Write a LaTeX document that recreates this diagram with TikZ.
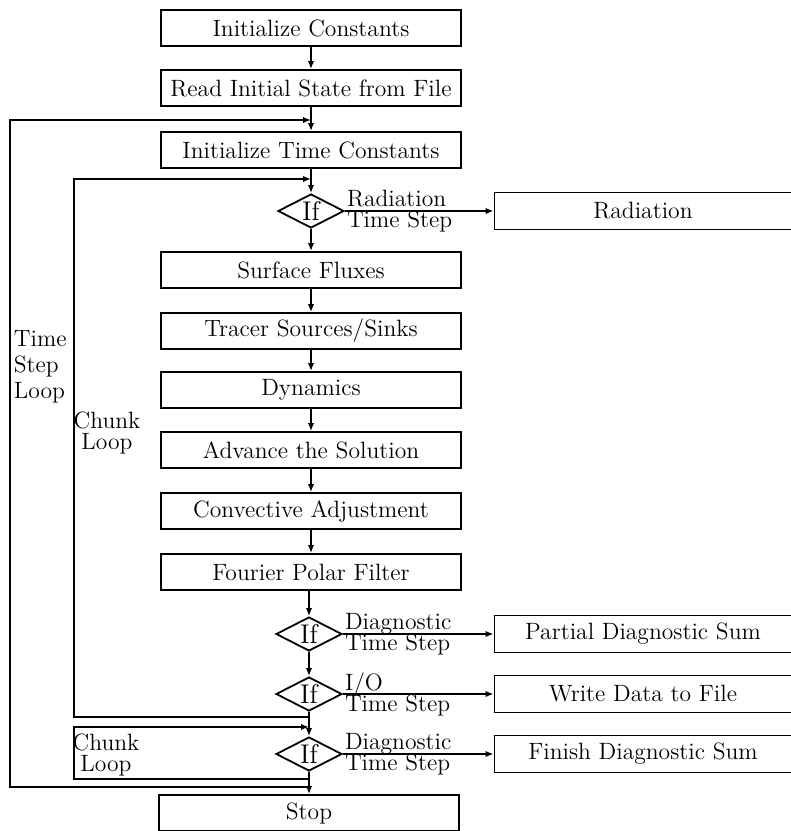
\documentclass[tikz,border=0pt]{standalone}
\usetikzlibrary{shapes.geometric,arrows.meta}
\begin{document}
\begin{tikzpicture}[x=0.5pt,y=-0.5pt,line width=0.9pt,
        >={Latex[length=4pt,width=3.2pt]},
        font=\fontsize{11.8}{13.5}\selectfont,
        stepbox/.style={draw,minimum width=150pt,minimum height=18pt,inner sep=0pt},
        sidebox/.style={draw,minimum width=148.5pt,minimum height=18.5pt,inner sep=0pt},
        test/.style={draw,diamond,aspect=2,inner sep=0pt,minimum width=33pt,minimum height=17pt,
            font=\fontsize{13.5}{15}\selectfont},
        cond/.style={anchor=west,align=left,inner sep=0.6pt},
        looplab/.style={align=center,inner sep=0pt}]
        \useasboundingbox (0,0) rectangle (791,831);

        % main column
        \node[stepbox] (init) at (311,28) {Initialize Constants};
        \node[stepbox] (read) at (311,88) {Read Initial State from File};
        \node[stepbox] (timec) at (311,150) {Initialize Time Constants};
        \node[test] (ifrad) at (311,211) {If};
        \node[stepbox] (surf) at (311,270) {Surface Fluxes};
        \node[stepbox] (tracer) at (311,331) {Tracer Sources/Sinks};
        \node[stepbox] (dyn) at (311,390) {Dynamics};
        \node[stepbox] (adv) at (311,450) {Advance the Solution};
        \node[stepbox] (conv) at (311,511) {Convective Adjustment};
        \node[stepbox] (four) at (311,572) {Fourier Polar Filter};
        \node[test] (ifdiag) at (309,634) {If};
        \node[test] (ifio) at (309,694) {If};
        \node[test] (iffin) at (309,754) {If};
        \node[stepbox] (stop) at (309,813) {Stop};

        % side branches
        \node[sidebox] (rad) at (643,211) {Radiation};
        \node[sidebox] (psum) at (643,634) {Partial Diagnostic Sum};
        \node[sidebox] (wdata) at (643,694) {Write Data to File};
        \node[sidebox] (fsum) at (643,754) {Finish Diagnostic Sum};

        \node[cond] (radlab) at (ifrad.east) {Radiation\\[-3pt]Time Step};
        \node[cond] (diaglab) at (ifdiag.east) {Diagnostic\\[-3pt]Time Step};
        \node[cond] (iolab) at (ifio.east) {I/O\\[-3pt]Time Step};
        \node[cond] (finlab) at (iffin.east) {Diagnostic\\[-3pt]Time Step};

        \draw[->] (init) -- (read);
        \draw[->] (read) -- (timec);
        \draw[->] (timec) -- (ifrad);
        \draw[->] (ifrad) -- (surf);
        \draw[->] (surf) -- (tracer);
        \draw[->] (tracer) -- (dyn);
        \draw[->] (dyn) -- (adv);
        \draw[->] (adv) -- (conv);
        \draw[->] (conv) -- (four);
        \draw[->] (four.south -| ifdiag) -- (ifdiag);
        \draw[->] (ifdiag) -- (ifio);
        \draw[->] (ifio) -- (iffin);
        \draw[->] (iffin) -- (stop);

        \draw[->] (ifrad) -- (rad);
        \draw[->] (ifdiag) -- (psum);
        \draw[->] (ifio) -- (wdata);
        \draw[->] (iffin) -- (fsum);

        % loops
        \coordinate (tsin) at (311,120);
        \coordinate (tsout) at (309,787);
        \coordinate (ckin) at (311,179);
        \coordinate (ckout) at (309,717);
        \coordinate (ck2in) at (309,727);
        \coordinate (ck2out) at (309,779);

        \draw[->] (tsout) -- ++(-299,0) |- (tsin);
        \draw[->] (ckout) -- ++(-235,0) |- (ckin);
        \draw[->] (ck2out) -- ++(-235,0) |- (ck2in);

        \node[align=left,anchor=west,inner sep=0pt] (tslab) at (13,367) {Time\\[-0.5pt]Step\\[-0.5pt]Loop};
        \node[looplab] (cklab) at (107,433) {Chunk\\[-3pt]Loop};
        \node[looplab] (ck2lab) at (106,755) {Chunk\\[-3pt]Loop};
    \end{tikzpicture}
\end{document}
